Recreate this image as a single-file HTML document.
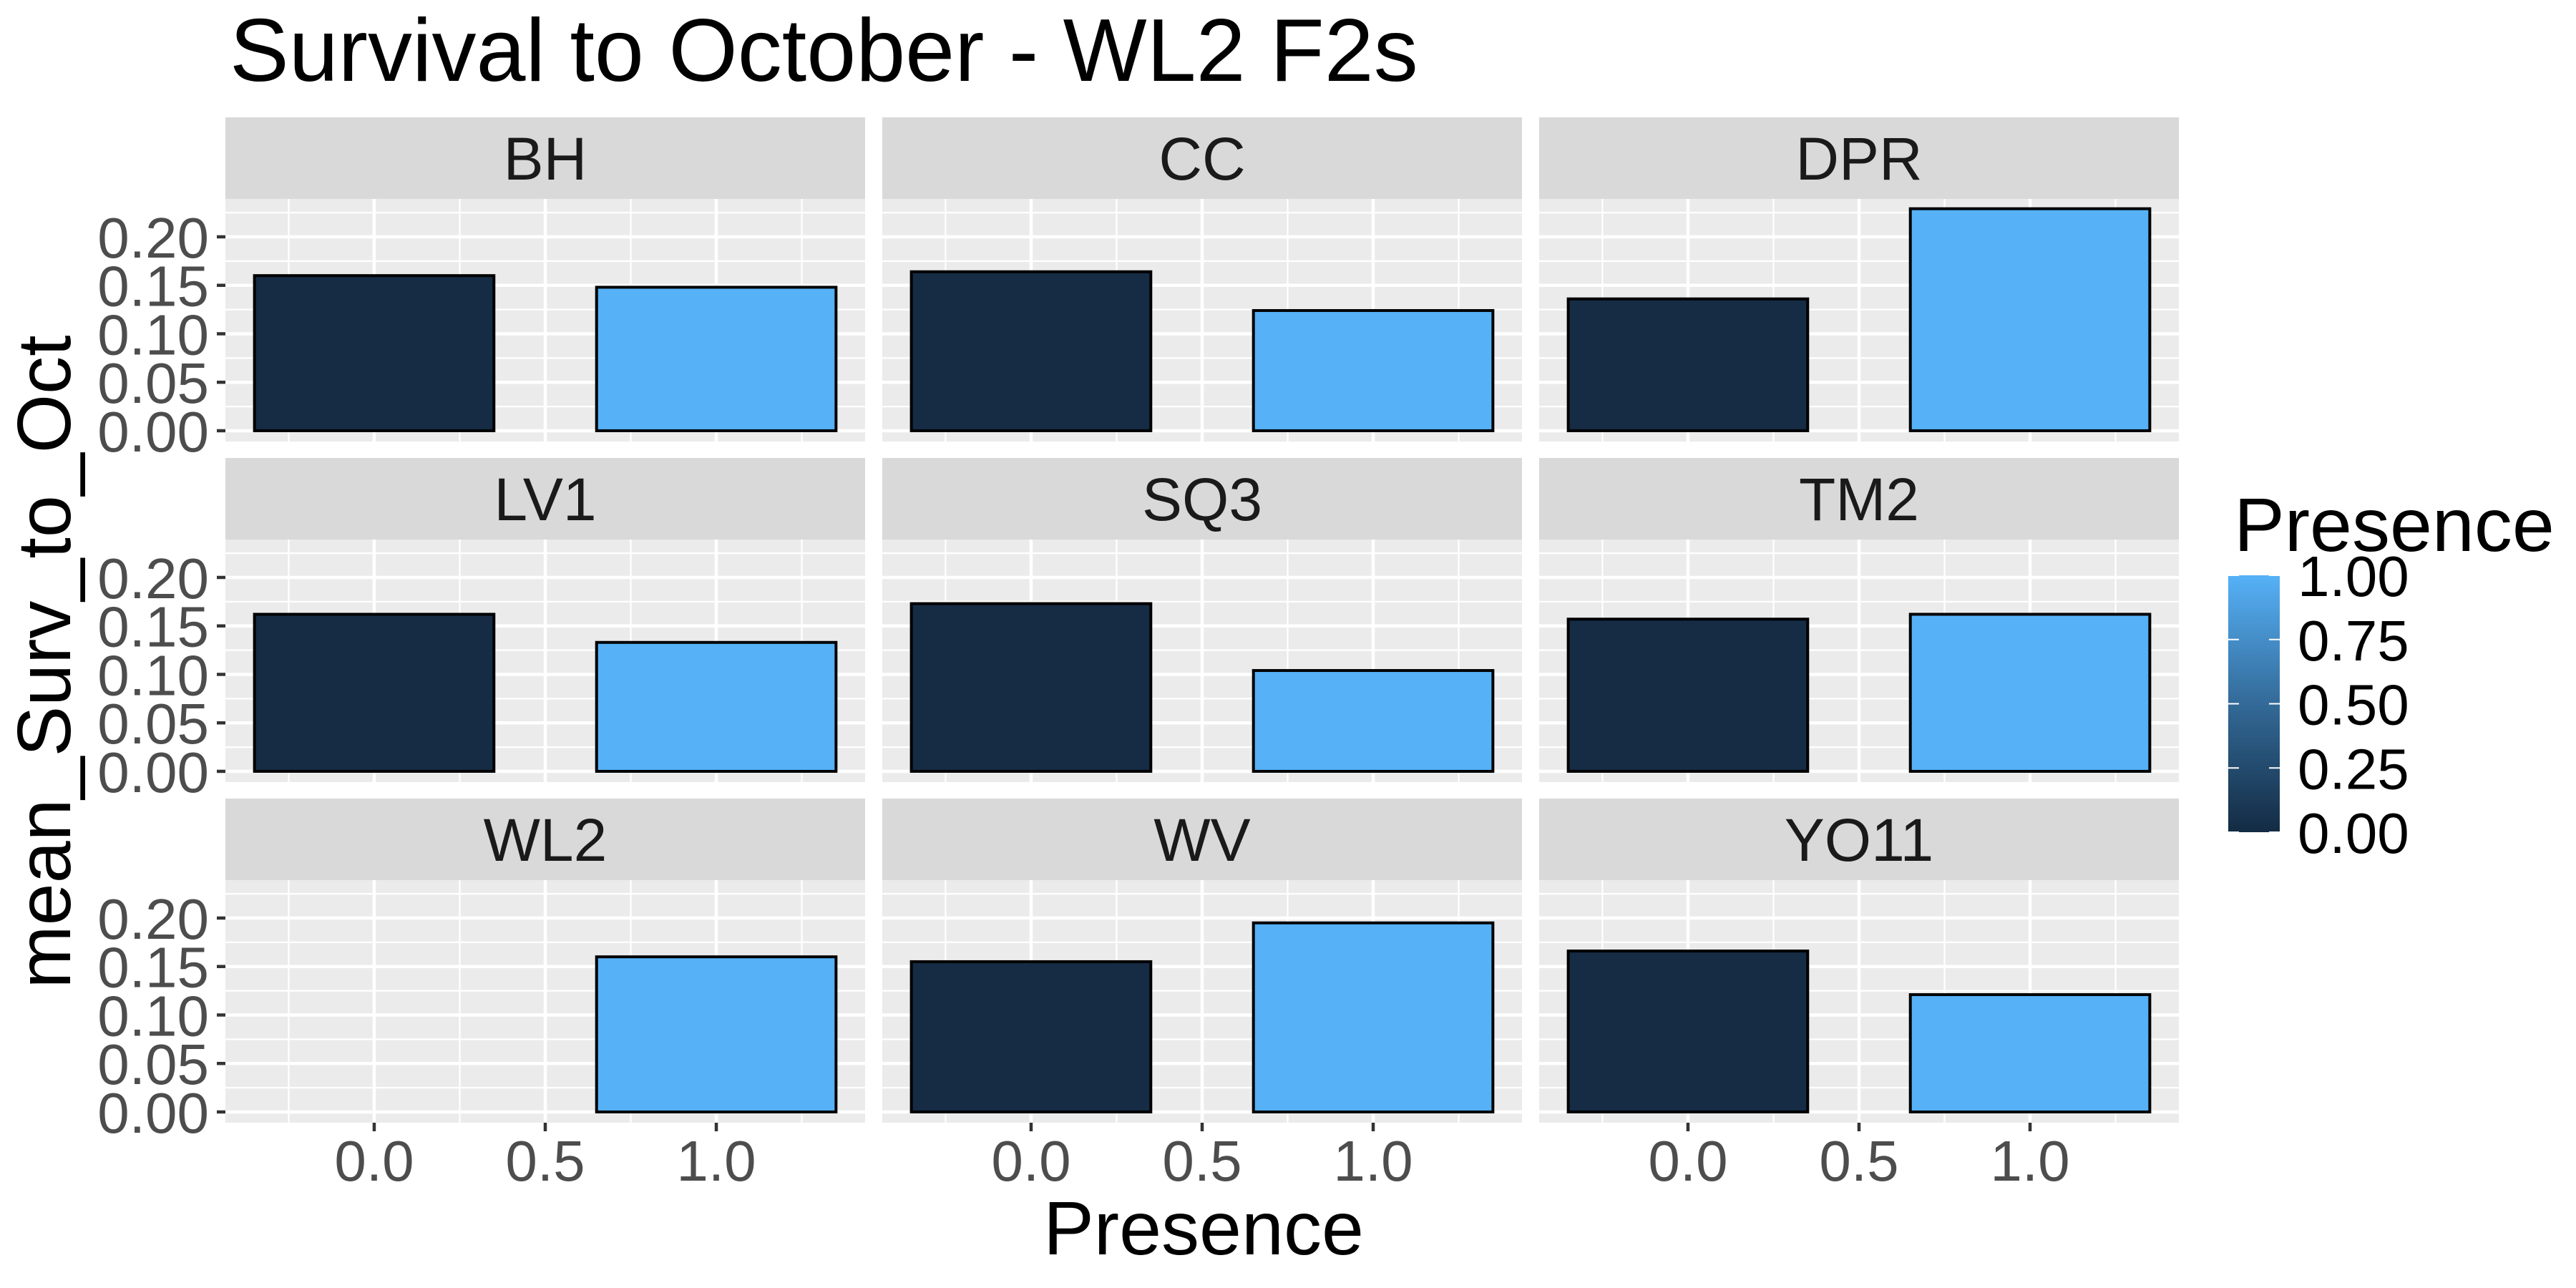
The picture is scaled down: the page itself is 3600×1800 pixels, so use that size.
<!DOCTYPE html>
<html><head><meta charset="utf-8"><style>
html,body{margin:0;padding:0;background:#fff;}
svg{display:block;font-family:"Liberation Sans",sans-serif;}
</style></head><body>
<svg id="chart" width="3600" height="1800" viewBox="0 0 3600 1800" xmlns="http://www.w3.org/2000/svg">
<defs>
<linearGradient id="lg" x1="0" y1="1" x2="0" y2="0">
<stop offset="0" stop-color="#132b43"/><stop offset="0.5" stop-color="#336a98"/><stop offset="1" stop-color="#56b1f7"/>
</linearGradient>
</defs>
<text x="321" y="113" font-size="124" fill="#000">Survival to October - WL2 F2s</text>
<g id="panels"></g>
<text transform="translate(98,925) rotate(-90)" text-anchor="middle" font-size="106" fill="#000">mean_Surv_to_Oct</text>
<text x="1682" y="1753" text-anchor="middle" font-size="106" fill="#000">Presence</text>
<g>
<text x="3122" y="770" font-size="106" fill="#000">Presence</text>
<rect x="3114" y="804" width="72" height="359" fill="url(#lg)"/>
<g id="legendticks"></g>
</g>
</svg>
<script>
const sites = ["BH","CC","DPR","LV1","SQ3","TM2","WL2","WV","YO11"];
const absentVals = [0.160,0.164,0.136,0.162,0.173,0.157,null,0.155,0.166];
const presentVals = [0.148,0.124,0.229,0.133,0.104,0.162,0.160,0.195,0.121];
const yTicks = [0,0.05,0.10,0.15,0.20];
const yTickLabels = ["0.00","0.05","0.10","0.15","0.20"];
const xTicks = [0,0.5,1];
const xTickLabels = ["0.0","0.5","1.0"];
const legendVals = [0,0.25,0.5,0.75,1];
const legendLabels = ["0.00","0.25","0.50","0.75","1.00"];

const NS="http://www.w3.org/2000/svg";
function mk(tag,attrs,parent){const e=document.createElementNS(NS,tag);for(const k in attrs)e.setAttribute(k,attrs[k]);parent.appendChild(e);return e;}
const colX=[315,1233,2151], PW=894;
const rowTop=[164,640,1116], SH=114, PH=339;
const xmin=-0.435, xmax=1.435, ymin=-0.0111, ymax=0.2391;
const root=document.getElementById('panels');
sites.forEach((s,i)=>{
  const c=i%3, r=Math.floor(i/3);
  const x0=colX[c], st=rowTop[r], py=st+SH, pb=py+PH;
  const X=v=>x0+(v-xmin)/(xmax-xmin)*PW;
  const Y=v=>pb-(v-ymin)/(ymax-ymin)*PH;
  const g=mk('g',{},root);
  
  
  const strip=mk('rect',{x:x0,y:st,width:PW,height:SH,fill:'#d9d9d9'},g);
  
  
  const stt=mk('text',{x:x0+PW/2,y:st+SH/2+30,'text-anchor':'middle','font-size':84,fill:'#1a1a1a'},g);
  stt.textContent=s;
  
  
  const bg=mk('rect',{x:x0,y:py,width:PW,height:PH,fill:'#ebebeb'},g);
  
  
  for(let k=0;k<yTicks.length-1;k++){const v=(yTicks[k]+yTicks[k+1])/2;const l=mk('line',{x1:x0,x2:x0+PW,y1:Y(v),y2:Y(v),stroke:'#fff','stroke-width':2.3},g);}
  [yTicks[yTicks.length-1]+0.025].forEach(v=>{const l=mk('line',{x1:x0,x2:x0+PW,y1:Y(v),y2:Y(v),stroke:'#fff','stroke-width':2.3},g);});
  [-0.25,0.25,0.75,1.25].forEach(v=>{const l=mk('line',{x1:X(v),x2:X(v),y1:py,y2:pb,stroke:'#fff','stroke-width':2.3},g);});
  yTicks.forEach(v=>{const l=mk('line',{x1:x0,x2:x0+PW,y1:Y(v),y2:Y(v),stroke:'#fff','stroke-width':4.5},g);});
  xTicks.forEach(v=>{const l=mk('line',{x1:X(v),x2:X(v),y1:py,y2:pb,stroke:'#fff','stroke-width':4.5},g);});
  [[0,absentVals[i],'#162b44'],[1,presentVals[i],'#56b1f6']].forEach(([xv,val,col])=>{
    if(val==null)return;
    const b=mk('rect',{x:X(xv-0.35),y:Y(val),width:X(xv+0.35)-X(xv-0.35),height:Y(0)-Y(val),fill:col,stroke:'#000','stroke-width':4},g);
    
    
  });
  if(c===0){
    yTicks.forEach((v,k)=>{
      mk('line',{x1:x0-12,x2:x0,y1:Y(v),y2:Y(v),stroke:'#333','stroke-width':4.5},g);
      const t=mk('text',{x:x0-23,y:Y(v)+29,'text-anchor':'end','font-size':80,fill:'#4d4d4d'},g);
      t.textContent=yTickLabels[k];
      
      
    });
  }
  if(r===2){
    xTicks.forEach((v,k)=>{
      mk('line',{x1:X(v),x2:X(v),y1:pb,y2:pb+12,stroke:'#333','stroke-width':4.5},g);
      const t=mk('text',{x:X(v),y:1650,'text-anchor':'middle','font-size':80,fill:'#4d4d4d'},g);
      t.textContent=xTickLabels[k];
      
      
    });
  }
});
const lt=document.getElementById('legendticks');
legendVals.forEach((v,k)=>{
  const y=1163-v*359;
  mk('line',{x1:3114,x2:3129,y1:y,y2:y,stroke:'#fff','stroke-width':2},lt);
  mk('line',{x1:3171,x2:3186,y1:y,y2:y,stroke:'#fff','stroke-width':2},lt);
  const t=mk('text',{x:3211,y:y+29,'font-size':80,fill:'#000'},lt);
  t.textContent=legendLabels[k];
  
  
});
</script>
</body></html>
